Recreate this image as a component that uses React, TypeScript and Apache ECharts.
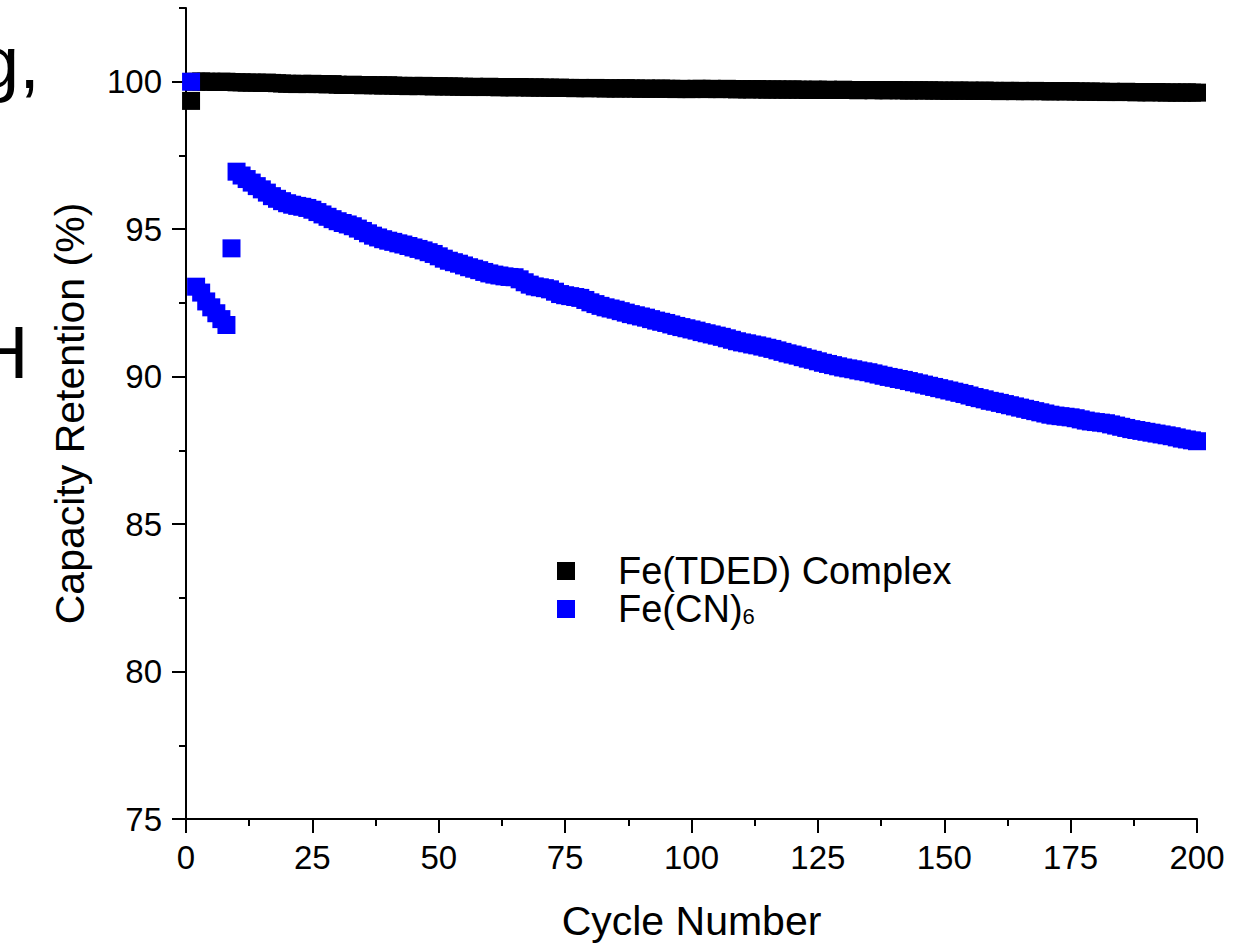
import React, { useEffect, useRef } from "react";
import * as echarts from "echarts";

const xTicks = [0, 25, 50, 75, 100, 125, 150, 175, 200];
const yTicks = [75, 80, 85, 90, 95, 100];

const seriesNames = ["Fe(TDED) Complex", "Fe(CN)6"];

// Fe(TDED) Complex, cycles 1..200
const tdedValues = [
  99.35, 100.0, 100.01, 100.0, 100.0, 99.99, 100.0, 100.0, 99.99, 99.98,
  99.98, 99.97, 99.97, 99.97, 99.96, 99.97, 99.96, 99.95, 99.94, 99.93,
  99.93, 99.92, 99.93, 99.92, 99.93, 99.92, 99.92, 99.91, 99.92, 99.9,
  99.89, 99.89, 99.9, 99.89, 99.88, 99.89, 99.88, 99.88, 99.87, 99.88,
  99.87, 99.86, 99.86, 99.85, 99.86, 99.85, 99.86, 99.85, 99.84, 99.85,
  99.84, 99.84, 99.84, 99.83, 99.83, 99.82, 99.83, 99.82, 99.82, 99.83,
  99.82, 99.81, 99.82, 99.81, 99.81, 99.82, 99.81, 99.8, 99.81, 99.8,
  99.8, 99.8, 99.79, 99.8, 99.79, 99.79, 99.78, 99.79, 99.78, 99.78,
  99.79, 99.78, 99.77, 99.78, 99.77, 99.77, 99.78, 99.77, 99.77, 99.76,
  99.77, 99.76, 99.76, 99.77, 99.76, 99.76, 99.75, 99.76, 99.75, 99.75,
  99.76, 99.76, 99.75, 99.76, 99.75, 99.75, 99.76, 99.75, 99.74, 99.75,
  99.74, 99.74, 99.75, 99.74, 99.73, 99.74, 99.74, 99.73, 99.73, 99.74,
  99.73, 99.73, 99.72, 99.73, 99.73, 99.72, 99.73, 99.72, 99.72, 99.73,
  99.72, 99.72, 99.71, 99.72, 99.72, 99.71, 99.72, 99.71, 99.71, 99.72,
  99.71, 99.71, 99.7, 99.71, 99.71, 99.7, 99.71, 99.7, 99.7, 99.7,
  99.69, 99.7, 99.7, 99.69, 99.7, 99.69, 99.69, 99.7, 99.69, 99.69,
  99.68, 99.69, 99.69, 99.68, 99.69, 99.68, 99.68, 99.69, 99.68, 99.68,
  99.67, 99.68, 99.68, 99.67, 99.68, 99.67, 99.67, 99.66, 99.67, 99.66,
  99.66, 99.65, 99.66, 99.65, 99.65, 99.66, 99.65, 99.64, 99.65, 99.64,
  99.64, 99.65, 99.64, 99.63, 99.64, 99.63, 99.63, 99.64, 99.63, 99.63,
];

// Fe(CN)6, cycles 1..200
const cnValues = [
  100.0, 93.05, 92.85, 92.55, 92.35, 92.15, 91.95, 91.75, 94.35, 96.95,
  96.82, 96.7, 96.58, 96.46, 96.35, 96.24, 96.12, 96.03, 95.95, 95.88,
  95.83, 95.79, 95.76, 95.72, 95.66, 95.58, 95.5, 95.42, 95.34, 95.27,
  95.21, 95.16, 95.1, 95.02, 94.94, 94.86, 94.78, 94.72, 94.66, 94.61,
  94.57, 94.52, 94.48, 94.43, 94.38, 94.33, 94.28, 94.22, 94.16, 94.08,
  94.0, 93.93, 93.88, 93.83, 93.77, 93.71, 93.66, 93.61, 93.55, 93.5,
  93.46, 93.43, 93.4, 93.38, 93.37, 93.3, 93.2, 93.12, 93.06, 93.03,
  93.0, 92.96, 92.88, 92.8, 92.76, 92.73, 92.7, 92.67, 92.6, 92.52,
  92.46, 92.4, 92.35, 92.31, 92.27, 92.22, 92.17, 92.12, 92.08, 92.04,
  92.0, 91.95, 91.9, 91.86, 91.82, 91.77, 91.72, 91.68, 91.64, 91.6,
  91.56, 91.51, 91.47, 91.43, 91.39, 91.35, 91.3, 91.25, 91.2, 91.16,
  91.13, 91.09, 91.06, 91.02, 90.98, 90.94, 90.89, 90.84, 90.79, 90.75,
  90.71, 90.66, 90.61, 90.57, 90.52, 90.47, 90.43, 90.39, 90.35, 90.31,
  90.28, 90.25, 90.21, 90.18, 90.15, 90.11, 90.07, 90.03, 89.99, 89.96,
  89.92, 89.89, 89.85, 89.81, 89.77, 89.73, 89.69, 89.65, 89.61, 89.57,
  89.53, 89.49, 89.45, 89.41, 89.36, 89.31, 89.27, 89.23, 89.18, 89.15,
  89.11, 89.07, 89.03, 88.99, 88.95, 88.91, 88.87, 88.83, 88.79, 88.75,
  88.71, 88.68, 88.66, 88.64, 88.62, 88.59, 88.55, 88.51, 88.48, 88.46,
  88.44, 88.42, 88.38, 88.34, 88.3, 88.26, 88.22, 88.19, 88.16, 88.13,
  88.1, 88.07, 88.04, 88.01, 87.98, 87.94, 87.9, 87.87, 87.84, 87.81,
];

const FONT = '"Liberation Sans", Arial, Helvetica, sans-serif';

export default function App() {
  const ref = useRef<HTMLDivElement>(null);

  useEffect(() => {
    if (!ref.current) return;
    const chart = echarts.init(ref.current, null, { renderer: "svg" });
    const toPairs = (vals: number[]) => vals.map((v, i) => [i + 1, v]);

    chart.setOption({
      animation: false,
      backgroundColor: "#ffffff",
      textStyle: { fontFamily: FONT, color: "#000" },
      grid: { left: 186, top: 8, right: 47, bottom: 126, containLabel: false },
      graphic: [
        {
          type: "text",
          x: -22,
          y: 62,
          style: {
            text: "g,",
            fontSize: 74,
            fontFamily: FONT,
            fill: "#000",
            verticalAlign: "middle",
          },
        },
        {
          type: "text",
          x: -25,
          y: 352,
          style: {
            text: "H",
            fontSize: 74,
            fontFamily: FONT,
            fill: "#000",
            verticalAlign: "middle",
          },
        },
      ],
      xAxis: {
        type: "value",
        min: xTicks[0],
        max: xTicks[xTicks.length - 1],
        interval: 25,
        name: "Cycle Number",
        nameLocation: "middle",
        nameGap: 81,
        nameTextStyle: { fontSize: 41, color: "#000", fontFamily: FONT },
        axisLine: { show: true, onZero: false, lineStyle: { color: "#000", width: 2 } },
        axisTick: { show: true, length: 14, lineStyle: { color: "#000", width: 2 } },
        minorTick: { show: true, splitNumber: 2, length: 7, lineStyle: { color: "#000", width: 2 } },
        axisLabel: { fontSize: 33, color: "#000", margin: 22, fontFamily: FONT },
        splitLine: { show: false },
      },
      yAxis: [
        {
          type: "value",
          min: 75,
          max: 102.5,
          interval: 5,
          name: "Capacity Retention (%)",
          nameLocation: "middle",
          nameGap: 96,
          nameTextStyle: { fontSize: 41, color: "#000", fontFamily: FONT },
          axisLine: { show: true, onZero: false, lineStyle: { color: "#000", width: 2 } },
          axisTick: {
            show: true,
            length: 14,
            customValues: yTicks,
            lineStyle: { color: "#000", width: 2 },
          },
          axisLabel: {
            fontSize: 33,
            color: "#000",
            margin: 24,
            fontFamily: FONT,
            customValues: yTicks,
          },
          splitLine: { show: false },
        },
        {
          type: "value",
          min: 75,
          max: 102.5,
          interval: 2.5,
          position: "left",
          axisLine: { show: false },
          axisTick: { show: true, length: 7, lineStyle: { color: "#000", width: 2 } },
          axisLabel: { show: false },
          splitLine: { show: false },
        },
      ],
      legend: {
        orient: "vertical",
        left: 552,
        top: 547,
        itemWidth: 18,
        itemHeight: 18,
        itemGap: 0,
        icon: "rect",
        data: seriesNames,
        itemStyle: { opacity: 1 },
        formatter: (name: string) =>
          name === "Fe(CN)6" ? "{n|Fe(CN)}{s|6}" : "{n|" + name + "}",
        textStyle: {
          padding: [0, 0, 0, 38],
          rich: {
            n: { fontSize: 38, lineHeight: 36, color: "#000", fontFamily: FONT },
            s: {
              fontSize: 22,
              lineHeight: 8,
              verticalAlign: "bottom",
              color: "#000",
              fontFamily: FONT,
            },
          },
        },
      },
      series: [
        {
          name: seriesNames[0],
          type: "scatter",
          symbol: "rect",
          symbolSize: 18,
          itemStyle: { color: "#000000", opacity: 1 },
          data: toPairs(tdedValues),
          clip: false,
        },
        {
          name: seriesNames[1],
          type: "scatter",
          symbol: "rect",
          symbolSize: 18,
          itemStyle: { color: "#0000ff", opacity: 1 },
          data: toPairs(cnValues),
          clip: false,
        },
      ],
    });

    return () => chart.dispose();
  }, []);

  return (
    <div
      ref={ref}
      style={{ position: "absolute", left: 0, top: 0, width: 1244, height: 946 }}
    />
  );
}
